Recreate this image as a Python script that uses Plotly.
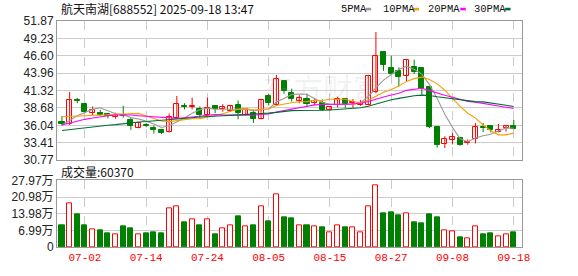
import plotly.graph_objects as go

dates = ["06-27", "06-30", "07-01", "07-02", "07-03", "07-04", "07-07", "07-08", "07-09", "07-10",
         "07-11", "07-14", "07-15", "07-16", "07-17", "07-18", "07-21", "07-22", "07-23", "07-24",
         "07-25", "07-28", "07-29", "07-30", "07-31", "08-01", "08-04", "08-05", "08-06", "08-07",
         "08-08", "08-11", "08-12", "08-13", "08-14", "08-15", "08-18", "08-19", "08-20", "08-21",
         "08-22", "08-25", "08-26", "08-27", "08-28", "08-29", "09-01", "09-02", "09-03", "09-04",
         "09-05", "09-08", "09-09", "09-10", "09-11", "09-12", "09-15", "09-16", "09-17", "09-18"]

opens = [36.6, 36.2, 39.9, 39.3, 37.95, 37.9, 37.7, 37.3, 37.55, 36.85,
         35.65, 36.1, 35.6, 35.35, 35.0, 37.2, 38.95, 38.85, 38.5, 37.55,
         38.9, 38.45, 38.2, 39.15, 37.55, 37.95, 37.0, 40.45, 39.15, 42.8,
         40.95, 39.75, 40.05, 39.4, 39.5, 38.3, 39.15, 40.05, 39.4, 39.15,
         39.15, 41.1, 47.1, 44.75, 44.35, 43.55, 44.85, 44.75, 41.8, 35.85,
         33.15, 33.8, 34.15, 33.3, 33.9, 35.85, 35.9, 35.1, 35.6, 35.9]
highs = [37.45, 41.1, 40.2, 39.5, 38.9, 38.4, 37.9, 37.95, 39.0, 37.2,
         36.5, 36.4, 36.0, 35.5, 37.85, 40.5, 39.4, 40.25, 38.9, 40.25,
         38.95, 39.25, 39.1, 39.8, 38.6, 38.45, 40.05, 40.8, 43.7, 42.85,
         41.6, 40.6, 40.85, 40.2, 40.0, 38.85, 40.4, 40.2, 40.05, 39.9,
         43.7, 50.2, 47.15, 46.6, 44.85, 46.05, 46.0, 44.8, 41.9, 35.95,
         34.4, 34.9, 34.3, 33.9, 36.4, 36.4, 35.95, 36.25, 36.1, 36.85]
lows = [36.0, 36.1, 39.4, 37.9, 37.6, 37.45, 37.1, 37.05, 37.2, 35.35,
        35.6, 35.75, 34.8, 34.7, 34.95, 37.15, 38.45, 38.45, 37.2, 37.5,
        37.9, 38.1, 38.1, 36.95, 37.5, 36.4, 36.95, 39.05, 39.1, 40.85,
        39.65, 39.4, 38.9, 39.05, 38.2, 38.25, 38.75, 38.7, 38.7, 39.0,
        39.1, 40.9, 44.3, 43.85, 41.95, 42.6, 43.8, 40.7, 35.6, 32.65,
        32.6, 33.15, 32.95, 33.1, 33.3, 35.0, 34.95, 34.95, 35.1, 35.45]
closes = [36.3, 39.9, 39.75, 38.05, 38.3, 37.55, 37.5, 37.55, 37.45, 36.0,
          36.45, 35.95, 35.35, 34.85, 37.35, 39.3, 38.85, 38.95, 37.55, 38.6,
          38.5, 38.75, 39.0, 37.85, 38.45, 37.05, 39.9, 39.4, 43.05, 41.2,
          40.0, 40.25, 39.25, 39.75, 38.3, 38.75, 40.05, 39.25, 39.65, 39.5,
          43.6, 46.6, 45.15, 43.9, 43.4, 46.0, 44.2, 41.6, 35.85, 33.0,
          33.95, 34.25, 33.0, 33.55, 35.85, 35.7, 35.4, 35.4, 35.9, 35.55]

ma5 = [36.1, 36.8, 37.5, 38.0, 38.46, 38.71, 38.23, 37.79, 37.67, 37.21,
       36.99, 36.68, 36.24, 35.72, 35.99, 36.56, 37.14, 37.86, 38.40, 38.65,
       38.49, 38.47, 38.48, 38.54, 38.51, 38.22, 38.45, 38.53, 39.57, 40.12,
       40.71, 40.78, 40.75, 40.09, 39.51, 39.26, 39.22, 39.22, 39.20, 39.44,
       40.41, 41.72, 42.90, 43.75, 44.53, 45.01, 44.53, 43.82, 42.21, 40.13,
       37.72, 35.73, 34.01, 33.55, 34.12, 34.47, 34.70, 35.18, 35.65, 35.59]
ma10 = [37.35, 37.4, 37.5, 37.55, 37.6, 37.65, 37.7, 37.75, 37.8, 37.84,
        37.85, 37.46, 37.02, 36.70, 36.60, 36.78, 36.91, 37.05, 37.06, 37.32,
        37.53, 37.81, 38.17, 38.47, 38.58, 38.36, 38.46, 38.51, 39.06, 39.32,
        39.47, 39.62, 39.64, 39.83, 39.82, 39.99, 40.00, 39.99, 39.65, 39.48,
        39.84, 40.47, 41.06, 41.48, 41.99, 42.71, 43.13, 43.36, 42.98, 42.33,
        41.37, 40.13, 38.92, 37.88, 37.13, 36.10, 35.22, 34.60, 34.60, 34.86]
ma20 = [36.1, 36.4, 36.7, 36.95, 37.15, 37.35, 37.5, 37.6, 37.65, 37.6,
        37.5, 37.4, 37.3, 37.2, 37.1, 37.1, 37.2, 37.35, 37.5, 37.58,
        37.69, 37.63, 37.59, 37.58, 37.59, 37.57, 37.69, 37.78, 38.06, 38.32,
        38.50, 38.71, 38.91, 39.15, 39.20, 39.17, 39.23, 39.25, 39.35, 39.40,
        39.65, 40.04, 40.35, 40.65, 40.90, 41.35, 41.56, 41.67, 41.31, 40.90,
        40.60, 40.30, 39.99, 39.68, 39.56, 39.40, 39.17, 38.98, 38.79, 38.59]
ma30 = [35.25, 35.4, 35.55, 35.7, 35.85, 35.95, 36.05, 36.15, 36.3, 36.45,
        36.55, 36.62, 36.7, 36.8, 36.9, 37.0, 37.1, 37.2, 37.3, 37.4,
        37.45, 37.5, 37.55, 37.6, 37.65, 37.7, 37.8, 37.9, 38.0, 38.16,
        38.28, 38.29, 38.28, 38.33, 38.33, 38.37, 38.46, 38.51, 38.59, 38.70,
        38.94, 39.30, 39.62, 39.93, 40.13, 40.35, 40.53, 40.62, 40.56, 40.37,
        40.22, 40.07, 39.87, 39.73, 39.64, 39.60, 39.45, 39.31, 39.08, 38.89]

volumes = [9.2, 18.2, 13.9, 9.2, 7.4, 7.1, 5.9, 5.5, 8.7, 7.9,
           5.1, 5.9, 6.3, 5.9, 16.3, 17.1, 10.3, 11.5, 9.2, 11.5,
           5.5, 7.9, 9.1, 12.8, 8.7, 9.2, 17.1, 10.7, 21.9, 12.4,
           11.9, 9.2, 9.2, 8.8, 8.4, 6.0, 9.2, 8.4, 8.4, 6.0,
           16.9, 25.7, 14.0, 14.5, 13.3, 14.0, 10.4, 10.0, 13.6, 12.4,
           6.8, 6.4, 4.0, 3.6, 8.8, 5.2, 5.6, 4.4, 5.2, 6.037]

price_ticks = [30.77, 33.41, 36.04, 38.68, 41.32, 43.96, 46.60, 49.23, 51.87]
vol_ticks = [0, 6.99, 13.98, 20.98, 27.97]
vol_tick_text = ["0", "6.99万", "13.98万", "20.98万", "27.97万"]
date_ticks = ["07-02", "07-14", "07-24", "08-05", "08-15", "08-27", "09-08", "09-18"]

title_text = "航天南湖[688552] 2025-09-18 13:47"
vol_label = "成交量:60370"
ma_names = ["5PMA", "10PMA", "20PMA", "30PMA"]

RED = "#ff0000"
GREEN = "#008000"
ma_colors = ["#999999", "#f5a000", "#ff00ff", "#006e32"]

W, H = 578, 276
L, R, T, B = 55, 56, 21, 21
PW, PH = W - L - R, H - T - B


def px(x):
    return (x - L) / PW


def py(y):
    return (H - B - y) / PH


up = [c >= o for o, c in zip(opens, closes)]

fig = go.Figure()

# wicks
for is_up, col in [(True, RED), (False, GREEN)]:
    wx, wy = [], []
    for i, d in enumerate(dates):
        if up[i] == is_up:
            wx += [d, d, None]
            wy += [lows[i], highs[i], None]
    fig.add_trace(go.Scatter(x=wx, y=wy, mode="lines", line=dict(color=col, width=1),
                             xaxis="x2", yaxis="y2", hoverinfo="skip", showlegend=False))

# bodies
for is_up, col, fill in [(True, RED, "#ffffff"), (False, GREEN, GREEN)]:
    bx, bb, bh = [], [], []
    for i, d in enumerate(dates):
        if up[i] == is_up:
            bx.append(d)
            bb.append(min(opens[i], closes[i]))
            bh.append(max(abs(closes[i] - opens[i]), 0.08))
    fig.add_trace(go.Bar(x=bx, y=bh, base=bb, width=0.66,
                         marker=dict(color=fill, line=dict(color=col, width=1)),
                         xaxis="x2", yaxis="y2", showlegend=False))

# moving averages
for name, vals, col in zip(ma_names, [ma5, ma10, ma20, ma30], ma_colors):
    fig.add_trace(go.Scatter(x=dates, y=vals, mode="lines", name=name,
                             line=dict(color=col, width=1.1),
                             xaxis="x2", yaxis="y2", showlegend=False))

# volume
for is_up, col, fill in [(True, RED, "#ffffff"), (False, GREEN, GREEN)]:
    vx = [d for i, d in enumerate(dates) if up[i] == is_up]
    vy = [volumes[i] for i in range(len(dates)) if up[i] == is_up]
    fig.add_trace(go.Bar(x=vx, y=vy, width=0.66,
                         marker=dict(color=fill, line=dict(color=col, width=1)),
                         xaxis="x", yaxis="y", showlegend=False))

xr = [-0.65, 60.08]
common_x = dict(type="category", categoryorder="array", categoryarray=dates, range=xr,
                tickmode="array", tickvals=date_ticks, showgrid=True, gridcolor="#cccccc",
                griddash="dash", gridwidth=1, showline=True, mirror=True, linecolor="#999999",
                linewidth=1, ticks="", zeroline=False)

fig.update_layout(
    width=W, height=H,
    margin=dict(l=L, r=R, t=T, b=B, pad=0),
    paper_bgcolor="white", plot_bgcolor="white",
    barmode="overlay", bargap=0,
    showlegend=False,
    font=dict(family="Liberation Sans, Arial, sans-serif", size=12, color="#222222"),
    xaxis=dict(common_x, anchor="y", showticklabels=True,
               tickfont=dict(family="Liberation Mono, monospace", size=11, color=RED)),
    xaxis2=dict(common_x, anchor="y2", matches="x", showticklabels=False),
    yaxis=dict(domain=[0, py(186)], range=[0, 27.97], tickmode="array", tickvals=vol_ticks,
               ticktext=vol_tick_text, showgrid=True, gridcolor="#cccccc", gridwidth=1,
               showline=True, mirror=True, linecolor="#999999", linewidth=1, ticks="",
               zeroline=False, tickfont=dict(family="Liberation Sans, Noto Sans CJK SC", size=12, color="#222222")),
    yaxis2=dict(domain=[py(165), 1], range=[30.77, 51.87], tickmode="array", tickvals=price_ticks,
                ticktext=["%.2f" % v for v in price_ticks], showgrid=True, gridcolor="#cccccc",
                gridwidth=1, showline=True, mirror=True, linecolor="#999999", linewidth=1,
                ticks="", zeroline=False,
                tickfont=dict(family="Liberation Sans, Arial", size=12, color="#222222")),
)

ann = []
ann.append(dict(text=title_text, x=px(57), y=py(8.5), xref="paper", yref="paper",
                xanchor="left", yanchor="middle", showarrow=False,
                font=dict(family="Noto Sans CJK SC", size=12, color="#111111")))
ann.append(dict(text=vol_label, x=px(57), y=py(177), xref="paper", yref="paper",
                xanchor="left", yanchor="middle", showarrow=False,
                font=dict(family="Noto Sans CJK SC", size=12, color="#111111")))
ann.append(dict(text="东方财富", x=px(322), y=py(89), xref="paper", yref="paper",
                xanchor="center", yanchor="middle", showarrow=False,
                font=dict(family="Noto Sans CJK SC", size=30, color="rgba(150,150,150,0.13)")))

leg_x = [338, 380, 425.5, 471.5]
sw_x = [365, 413, 460, 505]
shapes = []
for name, col, lx, sx in zip(ma_names, ma_colors, leg_x, sw_x):
    ann.append(dict(text=name, x=px(lx), y=py(8.5), xref="paper", yref="paper",
                    xanchor="left", yanchor="middle", showarrow=False,
                    font=dict(family="Liberation Mono, monospace", size=10.5, color="#111111")))
    shapes.append(dict(type="rect", xref="paper", yref="paper", x0=px(sx), x1=px(sx + 5.5),
                       y0=py(10), y1=py(7.3), fillcolor=col, line=dict(width=0)))

fig.update_layout(annotations=ann, shapes=shapes)

fig.write_html("out.html")
